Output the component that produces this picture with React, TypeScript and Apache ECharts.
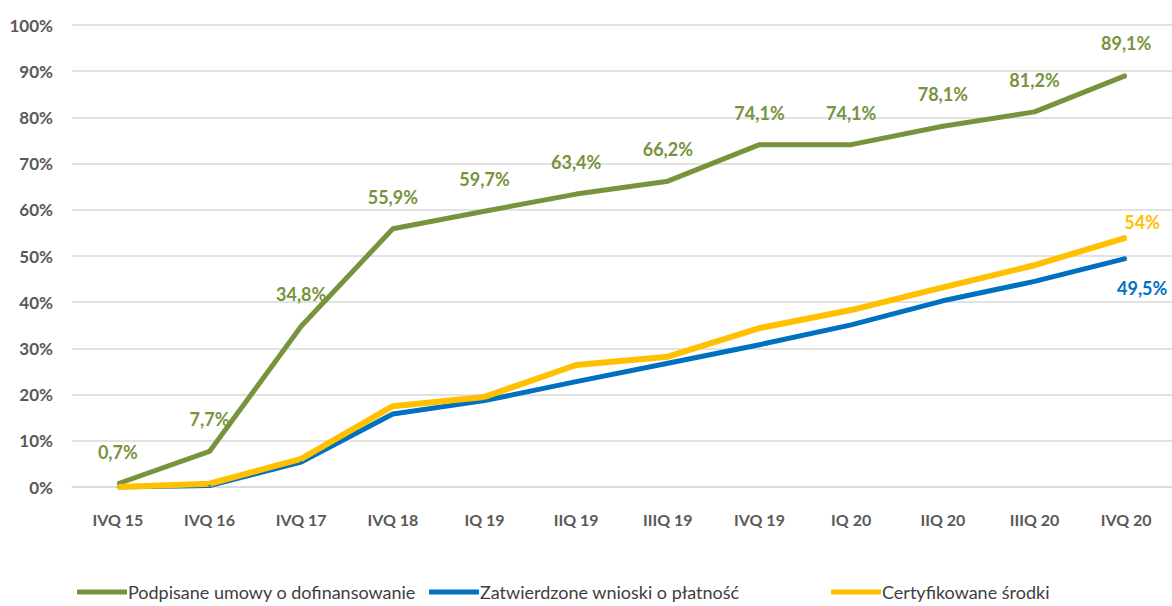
import React, { useEffect, useRef } from "react";
import * as echarts from "echarts";

// Quarterly progress of the programme (percent of allocation)
const quarters = [
  "IVQ 15", "IVQ 16", "IVQ 17", "IVQ 18", "IQ 19", "IIQ 19",
  "IIIQ 19", "IVQ 19", "IQ 20", "IIQ 20", "IIIQ 20", "IVQ 20",
];
const seriesNames = [
  "Podpisane umowy o dofinansowanie",
  "Zatwierdzone wnioski o płatność",
  "Certyfikowane środki",
];
const signedContracts = [0.7, 7.7, 34.8, 55.9, 59.7, 63.4, 66.2, 74.1, 74.1, 78.1, 81.2, 89.1];
const approvedClaims = [0, 0.3, 5.4, 15.8, 18.7, 22.8, 26.8, 30.8, 35.1, 40.3, 44.5, 49.5];
const certifiedFunds = [0, 0.7, 6.1, 17.5, 19.5, 26.4, 28.2, 34.4, 38.3, 43.2, 48.0, 54];
const yTicks = [0, 10, 20, 30, 40, 50, 60, 70, 80, 90, 100];

const GREEN = "#77933C";
const BLUE = "#0070C0";
const YELLOW = "#FFC000";
const FONT = "Lato";

const fmt = (v: number) => `${String(v).replace(".", ",")}%`;

export default function App() {
  const ref = useRef<HTMLDivElement>(null);

  useEffect(() => {
    if (!ref.current) return;
    const chart = echarts.init(ref.current, undefined, { renderer: "svg" });
    const last = quarters.length - 1;

    const labelBase = {
      fontFamily: FONT,
      fontSize: 18,
      fontWeight: "bold" as const,
      formatter: (p: any) => fmt(p.value),
    };

    chart.setOption({
      animation: false,
      backgroundColor: "#ffffff",
      grid: { left: 72, top: 25, width: 1110, height: 462, containLabel: false },
      xAxis: {
        type: "category",
        data: quarters,
        boundaryGap: true,
        axisLine: { show: true, lineStyle: { color: "#d9d9d9", width: 1.5 } },
        axisTick: { show: false },
        axisLabel: {
          interval: 0,
          margin: 24,
          color: "#595959",
          fontFamily: FONT,
          fontSize: 16,
          fontWeight: "bold",
        },
        splitLine: { show: false },
      },
      yAxis: {
        type: "value",
        min: yTicks[0],
        max: yTicks[yTicks.length - 1],
        interval: 10,
        axisLine: { show: false },
        axisTick: { show: false },
        axisLabel: {
          margin: 19,
          color: "#595959",
          fontFamily: FONT,
          fontSize: 17,
          fontWeight: "bold",
          formatter: (v: number) => `${v}%`,
        },
        splitLine: { lineStyle: { color: "#d9d9d9", width: 1.5 } },
      },
      legend: [0, 1, 2].map((i) => ({
        data: [seriesNames[i]],
        left: [75, 427, 829][i],
        top: 579,
        padding: 2,
        icon: "rect",
        itemWidth: 50,
        itemHeight: 5,
        itemGap: 0,
        textStyle: {
          color: "#404040",
          fontFamily: FONT,
          fontSize: 18,
          lineHeight: 22,
          padding: [0, 0, 0, -4],
        },
      })),
      series: [
        {
          name: seriesNames[0],
          type: "line",
          data: signedContracts,
          symbol: "circle",
          symbolSize: 2,
          lineStyle: { color: GREEN, width: 5, join: "round" },
          itemStyle: { color: GREEN },
          label: { ...labelBase, show: true, position: "top", distance: 22, color: GREEN },
        },
        {
          name: seriesNames[1],
          type: "line",
          data: approvedClaims.map((v, i) =>
            i === last
              ? { value: v, label: { ...labelBase, show: true, position: "bottom", distance: 20, offset: [16, 0], color: BLUE } }
              : v
          ),
          symbol: "circle",
          symbolSize: 2,
          lineStyle: { color: BLUE, width: 5, join: "round" },
          itemStyle: { color: BLUE },
          label: { show: false },
        },
        {
          name: seriesNames[2],
          type: "line",
          data: certifiedFunds.map((v, i) =>
            i === last
              ? { value: v, label: { ...labelBase, show: true, position: "top", distance: 6, offset: [16, 0], color: YELLOW } }
              : v
          ),
          symbol: "circle",
          symbolSize: 2,
          lineStyle: { color: YELLOW, width: 6, join: "round" },
          itemStyle: { color: YELLOW },
          label: { show: false },
        },
      ],
    });

    return () => chart.dispose();
  }, []);

  return (
    <div
      ref={ref}
      style={{ position: "absolute", left: 0, top: 0, width: 1172, height: 606 }}
    />
  );
}
